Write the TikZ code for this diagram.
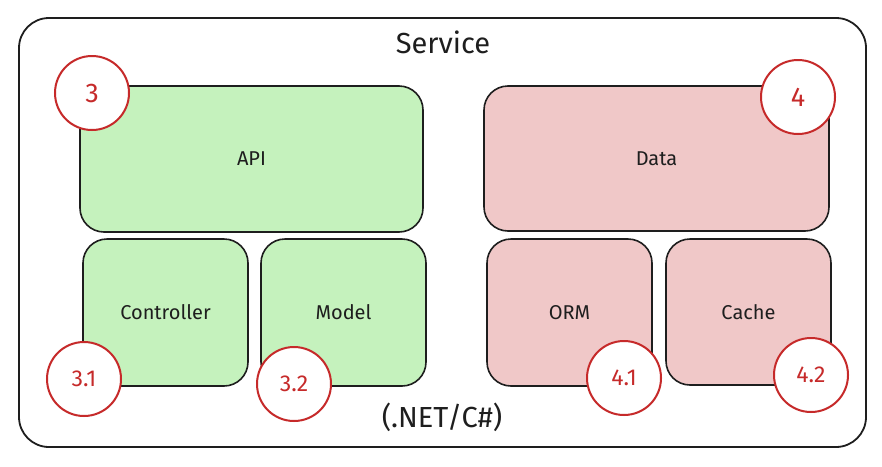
\documentclass[tikz,border=0pt]{standalone}
\usepackage{fontspec}
\setmainfont{Fira Sans}
\definecolor{ink}{HTML}{1E1E1E}
\definecolor{gfill}{HTML}{C5F2BD}
\definecolor{rfill}{HTML}{F0C8C8}
\definecolor{mark}{HTML}{C62A2A}
\begin{document}
\begin{tikzpicture}[x=1pt,y=-1pt,
  outerbox/.style={draw=ink,line width=1.8pt,rounded corners=30pt,fill=white},
  boxbase/.style={draw=ink,line width=1.6pt,rounded corners=24pt,inner sep=0pt,text=ink,font=\fontsize{20}{24}\selectfont},
  gbox/.style={boxbase,fill=gfill},
  rbox/.style={boxbase,fill=rfill},
  badge/.style={circle,draw=mark,line width=2pt,fill=white,minimum size=74pt,inner sep=0pt,text=mark,font=\fontsize{23}{27}\selectfont},
  title/.style={text=ink,font=\fontsize{29}{34}\selectfont}]
\useasboundingbox (0,0) rectangle (882,466);
\draw[outerbox] (19,18) rectangle (866,447);
\node[title] (service) at (443,42) {Service};
\node[title] (net) at (442,417) {(.NET/C\#)};
\node[gbox,minimum width=343pt,minimum height=146pt] (api) at (251.5,159) {API};
\node[gbox,minimum width=165pt,minimum height=147pt] (ctrl) at (165.5,312.5) {Controller};
\node[gbox,minimum width=165pt,minimum height=147pt] (model) at (343.5,312.5) {Model};
\node[rbox,minimum width=345pt,minimum height=145pt] (data) at (656.5,158.5) {Data};
\node[rbox,minimum width=165pt,minimum height=147pt] (orm) at (569.5,312.5) {ORM};
\node[rbox,minimum width=165pt,minimum height=146pt] (cache) at (748.5,312) {Cache};
% badges
\node[badge,font=\fontsize{27}{30}\selectfont] (b3) at (92,93) {3};
\node[badge,font=\fontsize{27}{30}\selectfont] (b4) at (798,97) {4};
\node[badge] (b31) at (84,379) {3.1};
\node[badge] (b32) at (294,384) {3.2};
\node[badge] (b41) at (624,378) {4.1};
\node[badge] (b42) at (811,375) {4.2};
\end{tikzpicture}
\end{document}
